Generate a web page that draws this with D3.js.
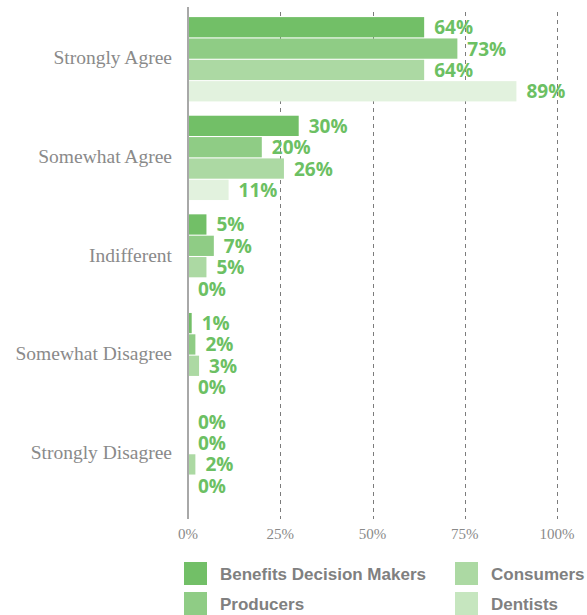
<!DOCTYPE html>
<html lang="en">
<head>
<meta charset="UTF-8">
<title>Agreement</title>
<script src="https://cdn.jsdelivr.net/npm/d3@7"></script>
<style>
  body { margin: 0; background: #fff; }
  .cat { font-family: "Liberation Serif", serif; font-size: 19.5px; fill: #8a8a8a; }
  .tick-label { font-family: "Liberation Serif", serif; font-size: 15px; fill: #8a8a8a; }
  .val { font-family: "Open Sans", sans-serif; font-weight: 700; font-size: 19px; fill: #6cc063; }
  .leg { font-family: "Liberation Sans", sans-serif; font-weight: 700; font-size: 17px; fill: #808080; }
</style>
</head>
<body>
<div id="chart"></div>
<script>
// answers (rows) and respondent groups (series)
var categories = ["Strongly Agree", "Somewhat Agree", "Indifferent", "Somewhat Disagree", "Strongly Disagree"];
var seriesNames = ["Benefits Decision Makers", "Producers", "Consumers", "Dentists"];
var decisionMakers = [64, 30, 5, 1, 0];
var producers = [73, 20, 7, 2, 0];
var consumers = [64, 26, 5, 3, 2];
var dentists = [89, 11, 0, 0, 0];
var tickValues = [0, 25, 50, 75, 100];

var barColors = ["#72bf67", "#8fcc85", "#acd9a3", "#e2f2de"];
var legendColors = ["#72bf67", "#8fcc85", "#acd9a3", "#c6e6bf"];

var width = 587, height = 615;

var svg = d3.select("#chart").append("svg")
    .attr("width", width)
    .attr("height", height);

var allSeries = [decisionMakers, producers, consumers, dentists];

var x = d3.scaleLinear().domain([0, 100]).range([188, 557]);

var y = d3.scaleBand()
    .domain(categories)
    .range([10, 503])
    .paddingInner(0.145)
    .paddingOuter(0.072);

var yInner = d3.scaleBand()
    .domain(d3.range(seriesNames.length))
    .range([0, y.bandwidth()])
    .paddingInner(0.05);

// dashed grid lines
svg.append("g")
    .selectAll("line")
    .data(tickValues.slice(1))
    .enter().append("line")
    .attr("x1", function(d) { return Math.round(x(d)) + 0.5; })
    .attr("x2", function(d) { return Math.round(x(d)) + 0.5; })
    .attr("y1", 12)
    .attr("y2", 519)
    .attr("stroke", "#7c7c7c")
    .attr("stroke-width", 1)
    .attr("stroke-dasharray", "4,4");

// bars
var rows = [];
categories.forEach(function(c, i) {
    allSeries.forEach(function(s, j) {
        rows.push({ cat: c, series: j, value: s[i] });
    });
});

var groups = svg.append("g");

groups.selectAll("rect")
    .data(rows)
    .enter().append("rect")
    .attr("x", x(0))
    .attr("y", function(d) { return y(d.cat) + yInner(d.series); })
    .attr("width", function(d) { return x(d.value) - x(0); })
    .attr("height", yInner.bandwidth())
    .attr("fill", function(d) { return barColors[d.series]; });

groups.selectAll("text")
    .data(rows)
    .enter().append("text")
    .attr("class", "val")
    .attr("x", function(d) { return x(d.value) + 10; })
    .attr("y", function(d) { return y(d.cat) + yInner(d.series) + yInner.bandwidth() / 2 + 7; })
    .text(function(d) { return d.value + "%"; });

// zero axis line
svg.append("line")
    .attr("x1", x(0)).attr("x2", x(0))
    .attr("y1", 7).attr("y2", 519)
    .attr("stroke", "#a8a8a8")
    .attr("stroke-width", 2);

// category labels
svg.append("g")
    .selectAll("text")
    .data(categories)
    .enter().append("text")
    .attr("class", "cat")
    .attr("x", 172)
    .attr("y", function(d) { return y(d) + y.bandwidth() / 2 + 5; })
    .attr("text-anchor", "end")
    .text(function(d) { return d; });

// x tick labels
svg.append("g")
    .selectAll("text")
    .data(tickValues)
    .enter().append("text")
    .attr("class", "tick-label")
    .attr("x", function(d) { return x(d); })
    .attr("y", 539)
    .attr("text-anchor", "middle")
    .text(function(d) { return d + "%"; });

// legend
var legend = svg.append("g")
    .selectAll("g")
    .data(seriesNames)
    .enter().append("g")
    .attr("transform", function(d, i) {
        var col = i < 2 ? 0 : 1, row = i % 2;
        return "translate(" + (184 + col * 271) + "," + (562 + row * 30) + ")";
    });

legend.append("rect")
    .attr("width", 23)
    .attr("height", 23)
    .attr("fill", function(d, i) { return legendColors[i]; });

legend.append("text")
    .attr("class", "leg")
    .attr("x", 36)
    .attr("y", 18)
    .text(function(d) { return d; });
</script>
</body>
</html>
